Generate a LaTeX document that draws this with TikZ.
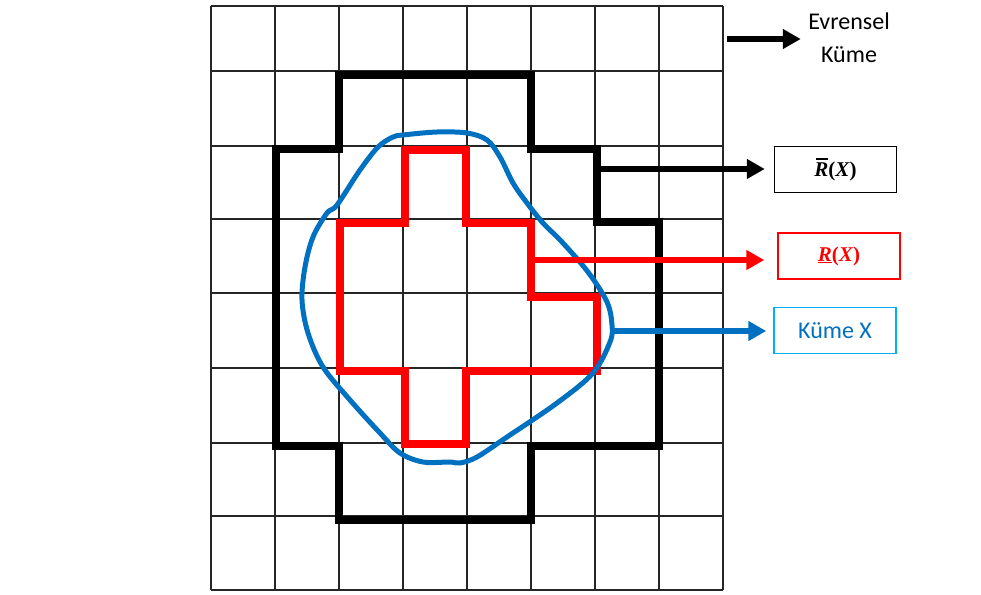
\documentclass[tikz,border=0pt]{standalone}
\usepackage{fontspec}
\setmainfont{Carlito}
\newfontfamily\lsfont{Liberation Serif}
\usetikzlibrary{arrows.meta,calc}
\definecolor{kblue}{HTML}{0070C0}
\definecolor{kcyan}{HTML}{00B0F0}
\definecolor{kred}{HTML}{FF0000}
\newsavebox{\rbox}
\newcommand{\barR}{\sbox{\rbox}{\itshape R}\rlap{\raisebox{\dimexpr\ht\rbox+2.5pt\relax}{\kern1.5pt\rule{\dimexpr\wd\rbox-1.5pt\relax}{1.3pt}}}\usebox{\rbox}}
\newcommand{\uapx}{{\lsfont\bfseries\barR(\textit{X})}}
\newcommand{\lapx}{{\lsfont\bfseries\underline{\itshape R}(\textit{X})}}
\begin{document}
\begin{tikzpicture}[x=1pt,y=-1pt,
  gridline/.style={line width=1.1pt,black!85},
  outline/.style={line width=8.5pt,line join=miter},
  conn/.style={line width=6pt,-{Triangle[length=18pt,width=19pt]}},
  lbox/.style={draw,line width=1.5pt,minimum width=122pt,minimum height=46pt,inner sep=0pt},
  mathtxt/.style={font=\fontsize{21}{24}\selectfont},
  lbl/.style={font=\fontsize{24}{33}\selectfont,align=center}]
\useasboundingbox (0,0) rectangle (981,594);
% grid
\foreach \i in {0,...,8}{
  \draw[gridline] ({211+64*\i},6) -- ({211+64*\i},590);
}
\foreach \yy in {6,71,146,219,293,368,443,516,590}{
  \draw[gridline] (211,\yy) -- (723,\yy);
}
% upper approximation (black)
\draw[outline,black] (339,75) -- (531,75) -- (531,149) -- (597,149) -- (597,222) -- (659,222)
  -- (659,446) -- (531,446) -- (531,520) -- (339,520) -- (339,446) -- (276,446)
  -- (276,149) -- (339,149) -- cycle;
% lower approximation (red)
\draw[outline,kred] (405,150) -- (466,150) -- (466,223) -- (531,223) -- (531,297) -- (597,297)
  -- (597,371) -- (466,371) -- (466,444) -- (405,444) -- (405,371) -- (340,371)
  -- (340,223) -- (405,223) -- cycle;
% set X (blue freehand)
\draw[kblue,line width=5pt,line join=round] plot[smooth cycle,tension=0.55] coordinates {(393,137) (403,135) (437,132) (467,133) (487,140) (500,157) (513,183) (527,203) (543,223) (562,242) (588,272) (607,302) (612,325) (610,342) (593,373) (557,403) (507,437) (477,457) (460,463) (450,462) (423,462) (400,453) (380,433) (350,400) (323,367) (308,333) (302,300) (305,267) (313,237) (327,213) (337,205) (360,170) (378,147)};
% labels
\node[lbl] (ev) at (849,38) {Evrensel\\Küme};
\node[lbox,mathtxt,draw=black] (ub) at (835.5,169.5) {\uapx};
\node[lbox,mathtxt,draw=kred,text=kred] (lb) at (839,256) {\lapx};
\node[lbox,lbl,draw=kcyan,text=kblue] (kx) at (835,330.5) {Küme X};
% connector start points
\coordinate (evs) at (727,39);
\coordinate (ubs) at (599,169);
\coordinate (lbs) at (531,260);
\coordinate (kxs) at (611,331);
\draw[conn,black,shorten >=4pt] (evs) -- (ev.west |- evs);
\draw[conn,black,shorten >=9pt] (ubs) -- (ubs -| ub.west);
\draw[conn,kred,shorten >=13pt] (lbs) -- (lbs -| lb.west);
\draw[conn,kblue,shorten >=7pt] (kxs) -- (kxs -| kx.west);
\end{tikzpicture}
\end{document}
